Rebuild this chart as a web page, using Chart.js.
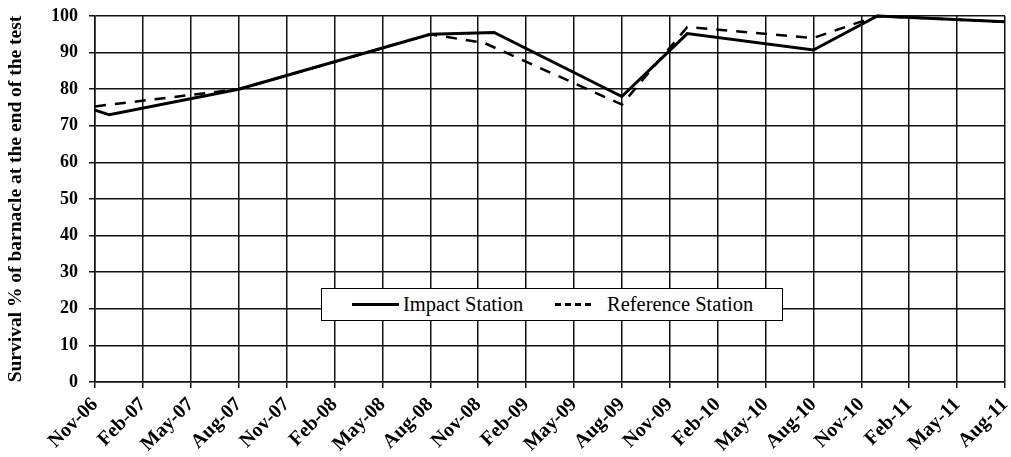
<!DOCTYPE html>
<html>
<head>
<meta charset="utf-8">
<script src="https://cdn.jsdelivr.net/npm/chart.js@4/dist/chart.umd.min.js"></script>
<style>
  html, body { margin: 0; padding: 0; background: #fff; }
  #wrap { position: relative; width: 1011px; height: 457px; }
  #legend {
    position: absolute; left: 321px; top: 288px; width: 462px; height: 33px;
    border: 1.5px solid #000; background: #fff; box-sizing: border-box;
    font-family: "Liberation Serif", "Times New Roman", serif; font-size: 20.5px; color: #000;
  }
  .item { position: absolute; top: 0; height: 100%; display: flex; align-items: center; }
  .swatch { display: inline-block; width: 47px; height: 0; margin-right: 4px; }
</style>
</head>
<body>
<div id="wrap">
  <canvas id="c" width="1011" height="457"></canvas>
  <div id="legend">
    <div class="item" style="left:30px"><span class="swatch" style="border-top:3px solid #000"></span><span id="l1"></span></div>
    <div class="item" style="left:233px"><span class="swatch" style="width:36px;border-top:3px dashed #000;margin-right:16px"></span><span id="l2"></span></div>
  </div>
</div>
<script>
// Quarterly tick labels (index i sits at month 3*i from Nov-06)
const tickLabels = ["Nov-06","Feb-07","May-07","Aug-07","Nov-07","Feb-08","May-08","Aug-08","Nov-08","Feb-09","May-09","Aug-09","Nov-09","Feb-10","May-10","Aug-10","Nov-10","Feb-11","May-11","Aug-11"];

// Series names
const seriesNames = ["Impact Station", "Reference Station"];

// Impact station: months since Nov-06, survival %
const impactMonths = [0, 0.9, 9, 21, 25, 33, 37.1, 45, 49, 57];
const impactValues = [74.3, 73, 80, 95, 95.5, 78, 95.2, 90.7, 100, 98.4];

// Reference station: months since Nov-06, survival %
const refMonths = [0, 9, 21, 24.4, 33, 37.1, 45, 49, 57];
const refValues = [75.3, 80, 95, 92.6, 75.8, 97, 94, 100, 98.4];

// Y ticks
const yMin = 0, yMax = 100, yStep = 10;

document.getElementById('l1').textContent = seriesNames[0];
document.getElementById('l2').textContent = seriesNames[1];

const toPts = (xs, ys) => xs.map((x, i) => ({ x: x, y: ys[i] }));
const serif = "'Liberation Serif', 'Times New Roman', serif";

new Chart(document.getElementById('c'), {
  type: 'line',
  data: {
    datasets: [
      { label: seriesNames[0], data: toPts(impactMonths, impactValues), borderColor: '#000', borderWidth: 3, pointRadius: 0, tension: 0, clip: false },
      { label: seriesNames[1], data: toPts(refMonths, refValues), borderColor: '#000', borderWidth: 2.5, borderDash: [11, 9], pointRadius: 0, tension: 0, clip: false }
    ]
  },
  options: {
    responsive: false,
    animation: false,
    devicePixelRatio: 1,
    layout: { padding: { top: 16, right: 6, left: 0, bottom: 0 } },
    plugins: { legend: { display: false }, tooltip: { enabled: false } },
    scales: {
      x: {
        type: 'linear',
        min: 0, max: (tickLabels.length - 1) * 3,
        afterBuildTicks: (s) => { s.ticks = tickLabels.map((_, i) => ({ value: i * 3 })); },
        afterFit: (s) => { s.height = 75; s.paddingLeft = 0; s.paddingRight = 0; },
        grid: { color: '#111', lineWidth: 1.5, tickLength: 6, drawTicks: true },
        border: { color: '#111', width: 1.5 },
        ticks: {
          autoSkip: false, minRotation: 45, maxRotation: 45, padding: 5,
          color: '#000', font: { family: serif, size: 20, weight: 'bold' },
          callback: (v) => tickLabels[Math.round(v / 3)]
        }
      },
      y: {
        min: yMin, max: yMax,
        afterFit: (s) => { s.width = 95; s.paddingTop = 0; s.paddingBottom = 0; },
        grid: { color: '#111', lineWidth: 1.5, tickLength: 6 },
        border: { color: '#111', width: 1.5 },
        ticks: { stepSize: yStep, padding: 11, color: '#000', font: { family: serif, size: 18, weight: 'bold' } },
        title: {
          display: true, text: 'Survival % of barnacle at the end of the test',
          color: '#000', font: { family: serif, size: 19.5, weight: 'bold' }, padding: { top: 4, bottom: 4 }
        }
      }
    }
  }
});
</script>
</body>
</html>
